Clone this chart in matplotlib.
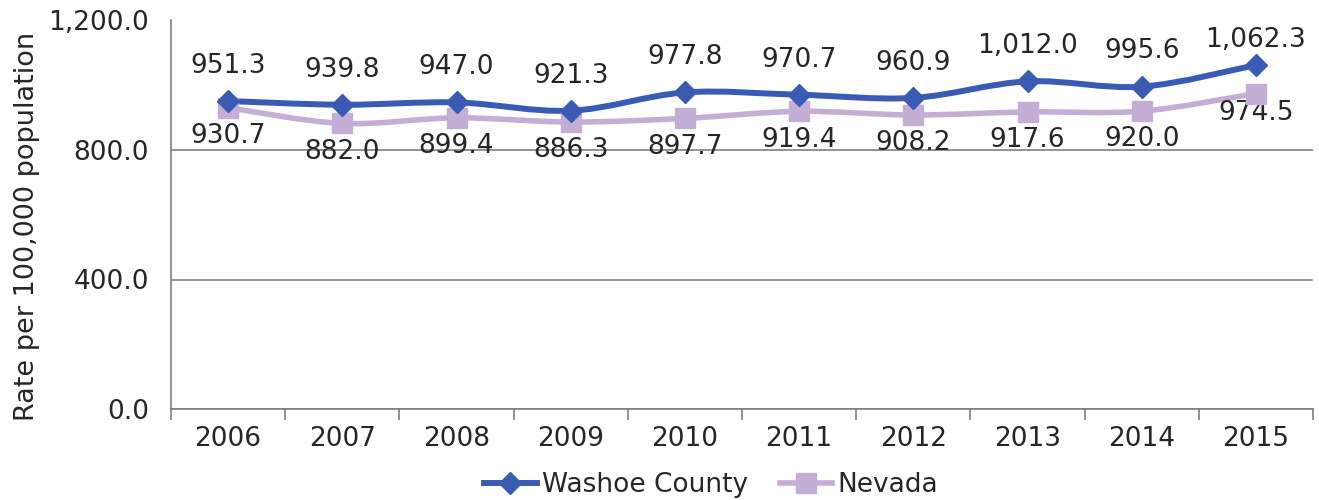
import matplotlib
matplotlib.use("Agg")
import matplotlib.pyplot as plt
from matplotlib.path import Path
from matplotlib.patches import PathPatch
import numpy as np

years = ["2006", "2007", "2008", "2009", "2010", "2011", "2012", "2013", "2014", "2015"]
washoe = [951.3, 939.8, 947.0, 921.3, 977.8, 970.7, 960.9, 1012.0, 995.6, 1062.3]
nevada = [930.7, 882.0, 899.4, 886.3, 897.7, 919.4, 908.2, 917.6, 920.0, 974.5]

BLUE = "#3A5BB4"
LILAC = "#C4AED6"
GRID = "#808080"
TXT = "#262626"

plt.rcParams['font.family'] = ['DejaVu Sans']


# excel style smoothed line, bezier through the points
def smooth_path(x, y):
	x = np.asarray(x, float)
	y = np.asarray(y, float)
	verts = [(x[0], y[0])]
	codes = [Path.MOVETO]
	n = len(x)
	for i in range(n - 1):
		p0 = i - 1 if i > 0 else i
		p3 = i + 2 if i + 2 < n else i + 1
		c1 = (x[i] + (x[i + 1] - x[p0]) / 6, y[i] + (y[i + 1] - y[p0]) / 6)
		c2 = (x[i + 1] - (x[p3] - x[i]) / 6, y[i + 1] - (y[p3] - y[i]) / 6)
		verts += [c1, c2, (x[i + 1], y[i + 1])]
		codes += [Path.CURVE4] * 3
	return Path(verts, codes)


fig = plt.figure(figsize=(13.19, 5.0), dpi=100)
ax = fig.add_axes([171 / 1319, 1 - 409 / 500, (1313 - 171) / 1319, (409 - 20.5) / 500])

xs = np.arange(len(years))

ax.add_patch(PathPatch(smooth_path(xs, nevada), fill=False, edgecolor=LILAC, lw=4.0,
	capstyle="round", joinstyle="round", zorder=2))
ax.add_patch(PathPatch(smooth_path(xs, washoe), fill=False, edgecolor=BLUE, lw=4.3,
	capstyle="round", joinstyle="round", zorder=3))
ax.plot(xs, nevada, ls="none", marker="s", ms=15, color=LILAC, zorder=4)
ax.plot(xs, washoe, ls="none", marker="D", ms=11, color=BLUE, zorder=5)

# legend handles
ax.plot([], [], color=BLUE, lw=4.3, marker="D", ms=11, label="Washoe County")
ax.plot([], [], color=LILAC, lw=4.0, marker="s", ms=15, label="Nevada")

for i in xs:
	up = 16 if i < len(xs) - 1 else 9
	dn = 11 if i < len(xs) - 1 else 5
	ax.annotate(f"{washoe[i]:,.1f}", (i, washoe[i]), xytext=(0, up), textcoords="offset points",
		ha="center", va="bottom", fontsize=19, color=TXT)
	ax.annotate(f"{nevada[i]:,.1f}", (i, nevada[i]), xytext=(0, -dn), textcoords="offset points",
		ha="center", va="top", fontsize=19, color=TXT)

ax.set_xlim(-0.5, len(years) - 0.5)
ax.set_ylim(0, 1200)
ax.set_yticks([0, 400, 800, 1200])
ax.set_yticklabels([f"{v:,.1f}" for v in [0, 400, 800, 1200]])
ax.set_xticks(xs)
ax.set_xticklabels(years)
ax.set_xticks(np.arange(-0.5, len(years)), minor=True)
ax.tick_params(axis="x", which="major", length=0, pad=12, labelsize=19, labelcolor=TXT)
ax.tick_params(axis="x", which="minor", length=8, width=1.2, color=GRID, direction="out")
ax.tick_params(axis="y", length=0, pad=16, labelsize=19, labelcolor=TXT)
ax.grid(axis="y", color=GRID, lw=1.2)
ax.set_axisbelow(True)
for s in ["top", "right"]:
	ax.spines[s].set_visible(False)
ax.spines["left"].set_color(GRID)
ax.spines["bottom"].set_color(GRID)
ax.spines["left"].set_linewidth(1.2)
ax.spines["bottom"].set_linewidth(1.2)

ax.set_ylabel("Rate per 100,000 population", fontsize=19.5, color=TXT)
ax.yaxis.set_label_coords(-(171 - 40) / (1313 - 171), (409 - 226.5) / (409 - 20.5))

fig.legend(loc="center", bbox_to_anchor=(711 / 1319, 1 - 485 / 500), ncol=2, frameon=False,
	fontsize=19, handlelength=2.0, handletextpad=0.2, columnspacing=1.2, labelcolor=TXT)

fig.savefig("out.png", dpi=100)
